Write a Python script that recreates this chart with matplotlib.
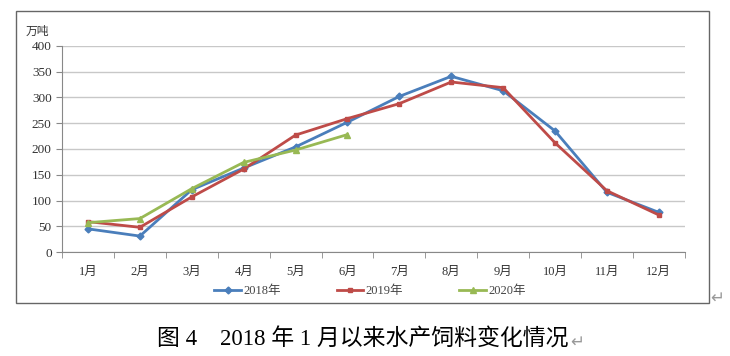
import matplotlib
matplotlib.use('Agg')
import matplotlib.pyplot as plt
from matplotlib.patches import Rectangle

plt.rcParams['font.family'] = ['Liberation Serif', 'Noto Sans CJK SC', 'DejaVu Sans']

months = ['1月', '2月', '3月', '4月', '5月', '6月',
          '7月', '8月', '9月', '10月', '11月', '12月']
y2018 = [45, 31, 121, 163, 204, 252, 302, 341, 313, 235, 116, 77]
y2019 = [59, 48, 107, 161, 227, 259, 288, 330, 319, 212, 119, 72]
y2020 = [57, 65, 123, 174, 198, 228]
yticks = [0, 50, 100, 150, 200, 250, 300, 350, 400]

fig = plt.figure(figsize=(7.3, 3.56), dpi=100)
ax = fig.add_axes([0.085, 0.292, 0.853, 0.579])

x = range(len(months))
ax.plot(x, y2018, color='#4A7EBB', lw=2, marker='D', ms=3.5, label='2018年')
ax.plot(x[:len(y2019)], y2019, color='#BE4B48', lw=2, marker='s', ms=3.5, label='2019年')
ax.plot(x[:len(y2020)], y2020, color='#98B954', lw=2, marker='^', ms=5, label='2020年')

ax.set_xlim(-0.5, 11.5)
ax.set_ylim(0, 400)
ax.set_yticks(yticks)
ax.set_xticks(list(x))
ax.set_xticklabels(months)
ax.set_xticks([i - 0.5 for i in range(13)], minor=True)
ax.tick_params(axis='x', which='major', length=0, pad=10, labelsize=9, colors='#333333')
ax.tick_params(axis='x', which='minor', length=4, color='#888888')
ax.tick_params(axis='y', length=4, color='#888888', labelsize=9.5, colors='#333333')
ax.grid(axis='y', color='#c8c8c8', lw=1)
ax.set_axisbelow(True)
for s in ['top', 'right']:
    ax.spines[s].set_visible(False)
ax.spines['left'].set_color('#888888')
ax.spines['bottom'].set_color('#888888')

ax.text(-0.04, 1.04, '万吨', transform=ax.transAxes, fontsize=8.5,
        family=['Noto Sans CJK SC'], color='#333333', ha='center', va='bottom')

fig.legend(loc='center', bbox_to_anchor=(0.507, 0.182), ncol=3, frameon=False,
           fontsize=9, handlelength=2.1, columnspacing=4.5, handletextpad=0.2,
           labelcolor='#444444')

fig.patches.append(Rectangle((0.022, 0.149), 0.949, 0.82, transform=fig.transFigure,
                             fill=False, edgecolor='#666666', lw=1))
fig.text(0.983, 0.165, '↵', fontsize=12, color='#999999', family=['DejaVu Sans'],
         ha='center', va='center')

cap = fig.text(0.497, 0.045, '图 4　2018 年 1 月以来水产饲料变化情况', fontsize=16.5,
               ha='center', va='center')
fig.canvas.draw()
bb = cap.get_window_extent()
fig.text(bb.x1 / 730 + 0.002, 0.04, '↵', fontsize=12, color='#999999',
         family=['DejaVu Sans'], ha='left', va='center')

fig.savefig('out.png', dpi=100)
